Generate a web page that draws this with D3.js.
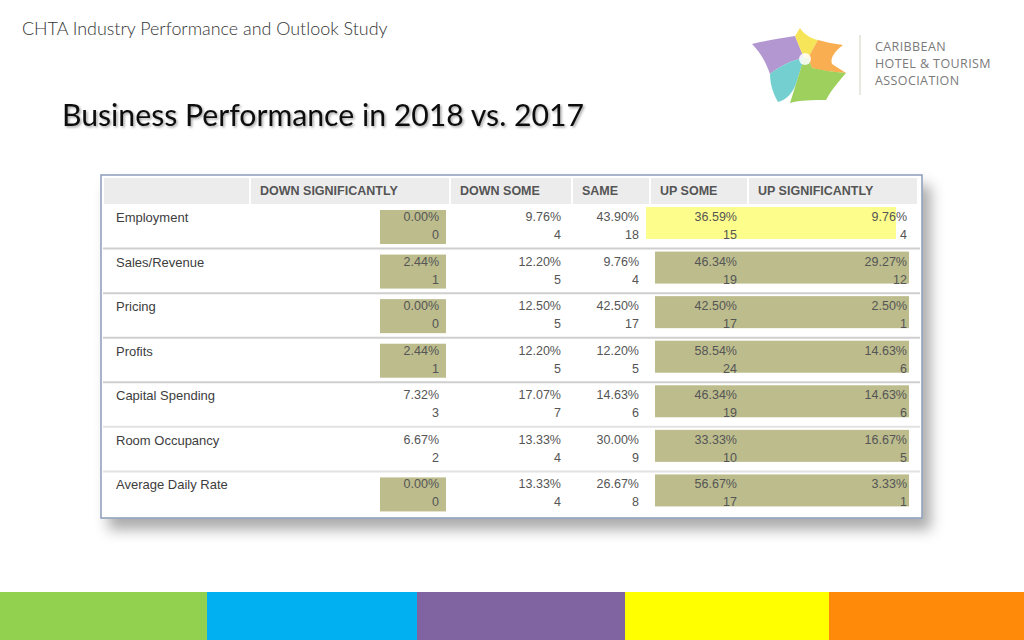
<!DOCTYPE html>
<html>
<head>
<meta charset="utf-8">
<script src="https://cdn.jsdelivr.net/npm/d3@7"></script>
<style>
  html, body { margin: 0; padding: 0; background: #fff; }
  svg { display: block; }
</style>
</head>
<body>
<svg id="chart" width="1024" height="640"></svg>
<script>
// ---------------- DATA ----------------
const slideHeader = "CHTA Industry Performance and Outlook Study";
const slideTitle = "Business Performance in 2018 vs. 2017";
const columns = ["DOWN SIGNIFICANTLY", "DOWN SOME", "SAME", "UP SOME", "UP SIGNIFICANTLY"];
const rowLabels = ["Employment", "Sales/Revenue", "Pricing", "Profits", "Capital Spending", "Room Occupancy", "Average Daily Rate"];
const percents = [
  ["0.00%", "9.76%", "43.90%", "36.59%", "9.76%"],
  ["2.44%", "12.20%", "9.76%", "46.34%", "29.27%"],
  ["0.00%", "12.50%", "42.50%", "42.50%", "2.50%"],
  ["2.44%", "12.20%", "12.20%", "58.54%", "14.63%"],
  ["7.32%", "17.07%", "14.63%", "46.34%", "14.63%"],
  ["6.67%", "13.33%", "30.00%", "33.33%", "16.67%"],
  ["0.00%", "13.33%", "26.67%", "56.67%", "3.33%"]
];
const counts = [
  [0, 4, 18, 15, 4],
  [1, 5, 4, 19, 12],
  [0, 5, 17, 17, 1],
  [1, 5, 5, 24, 6],
  [3, 7, 6, 19, 6],
  [2, 4, 9, 10, 5],
  [0, 4, 8, 17, 1]
];
// highlighted cells: [row, firstColumn, lastColumn, kind]
const highlights = [
  ["Employment", "DOWN SIGNIFICANTLY", "DOWN SIGNIFICANTLY", "olive"],
  ["Employment", "UP SOME", "UP SIGNIFICANTLY", "yellow"],
  ["Sales/Revenue", "DOWN SIGNIFICANTLY", "DOWN SIGNIFICANTLY", "olive"],
  ["Sales/Revenue", "UP SOME", "UP SIGNIFICANTLY", "olive"],
  ["Pricing", "DOWN SIGNIFICANTLY", "DOWN SIGNIFICANTLY", "olive"],
  ["Pricing", "UP SOME", "UP SIGNIFICANTLY", "olive"],
  ["Profits", "DOWN SIGNIFICANTLY", "DOWN SIGNIFICANTLY", "olive"],
  ["Profits", "UP SOME", "UP SIGNIFICANTLY", "olive"],
  ["Capital Spending", "UP SOME", "UP SIGNIFICANTLY", "olive"],
  ["Room Occupancy", "UP SOME", "UP SIGNIFICANTLY", "olive"],
  ["Average Daily Rate", "DOWN SIGNIFICANTLY", "DOWN SIGNIFICANTLY", "olive"],
  ["Average Daily Rate", "UP SOME", "UP SIGNIFICANTLY", "olive"]
];
const logoLines = ["CARIBBEAN", "HOTEL & TOURISM", "ASSOCIATION"];
const footerColors = ["#92D050", "#00B0F0", "#8064A2", "#FFFF00", "#FF8A0A"];

// ---------------- DRAW ----------------
const svg = d3.select("#chart");
const defs = svg.append("defs");

const tblShadow = defs.append("filter").attr("id", "tblShadow")
  .attr("x", "-5%").attr("y", "-5%").attr("width", "115%").attr("height", "125%");
tblShadow.append("feDropShadow").attr("dx", 8).attr("dy", 11).attr("stdDeviation", 7)
  .attr("flood-color", "#000").attr("flood-opacity", 0.33);

const titleShadow = defs.append("filter").attr("id", "titleShadow")
  .attr("x", "-5%").attr("y", "-20%").attr("width", "110%").attr("height", "150%");
titleShadow.append("feDropShadow").attr("dx", 1.5).attr("dy", 1.5).attr("stdDeviation", 1)
  .attr("flood-color", "#000").attr("flood-opacity", 0.35);

// header texts
svg.append("text").attr("x", 22).attr("y", 35)
  .attr("font-family", "Lato, 'Open Sans', sans-serif").attr("font-size", 17.9).attr("font-weight", 300)
  .attr("fill", "#333").text(slideHeader);

svg.append("text").attr("x", 62).attr("y", 126)
  .attr("font-family", "Lato, 'Open Sans', sans-serif").attr("font-size", 30.2)
  .attr("fill", "#111").attr("filter", "url(#titleShadow)").text(slideTitle);

// ---- logo ----
const logo = svg.append("g");
const starParts = [
  {c: "#A585C8", d: "M752,44 C768,40 782,38 795,36 L804,58 C792,60 780,66 770,74 C766,62 760,52 752,44 Z"},
  {c: "#5CC8C8", d: "M770,74 C780,66 792,60 804,58 L796,84 C792,94 786,100 778,102 C772,92 770,82 770,74 Z"},
  {c: "#F6E03C", d: "M795,36 C797,33 798,31 800,28 C804,34 810,38 818,40 L808,58 L804,58 Z"},
  {c: "#F7A033", d: "M808,58 L818,40 C826,42 834,44 843,45 C834,52 830,58 832,64 C838,68 842,70 846,73 C832,72 820,70 812,68 Z"},
  {c: "#8CC840", d: "M804,58 L808,58 L812,68 C822,70 832,72 846,73 C838,82 830,92 826,100 C812,100 800,100 790,103 L796,84 Z"}
];
logo.selectAll("path.star").data(starParts).join("path").attr("class", "star")
  .attr("d", d => d.d).attr("fill", d => d.c).attr("opacity", 0.85);
logo.append("circle").attr("cx", 805).attr("cy", 59).attr("r", 6).attr("fill", "#fff").attr("opacity", 0.85);
logo.append("line").attr("x1", 860).attr("x2", 860).attr("y1", 35).attr("y2", 95)
  .attr("stroke", "#e2e2d8").attr("stroke-width", 1.5);
logo.selectAll("text.logo").data(logoLines).join("text").attr("class", "logo")
  .attr("x", 875).attr("y", (d, i) => 51 + i * 17)
  .attr("font-family", "'Open Sans', Lato, sans-serif").attr("font-size", 12.5)
  .attr("letter-spacing", 0.4).attr("fill", "#7a7a7a").text(d => d);

// ---- table ----
const tbl = {left: 101, right: 922, top: 175, bottom: 518, headTop: 178, headBottom: 204, bodyBottom: 516};
const colEdges = [103, 250, 450, 572, 650, 748, 918];
const colStart = d3.scaleOrdinal().domain(["", ...columns]).range(colEdges.slice(0, 6));
const colEnd = d3.scaleOrdinal().domain(["", ...columns]).range(colEdges.slice(1));
const rowY = d3.scaleBand().domain(rowLabels).range([tbl.headBottom, tbl.bodyBottom]).paddingInner(0);

const tg = svg.append("g");
tg.append("rect").attr("x", tbl.left).attr("y", tbl.top)
  .attr("width", tbl.right - tbl.left).attr("height", tbl.bottom - tbl.top)
  .attr("fill", "#fff").attr("stroke", "#8a9cba").attr("stroke-width", 1.5)
  .attr("filter", "url(#tblShadow)");

tg.selectAll("rect.hcell").data(["", ...columns]).join("rect").attr("class", "hcell")
  .attr("x", d => colStart(d) + 1).attr("y", tbl.headTop)
  .attr("width", d => colEnd(d) - colStart(d) - 2).attr("height", tbl.headBottom - tbl.headTop)
  .attr("fill", "#ececec");

tg.selectAll("text.htxt").data(columns).join("text").attr("class", "htxt")
  .attr("x", d => colStart(d) + 10).attr("y", tbl.headTop + 17)
  .attr("font-family", "'Liberation Sans', Arial, sans-serif").attr("font-weight", "bold")
  .attr("font-size", 12.5).attr("fill", "#555").text(d => d);

// highlights
const hlColor = {olive: "#bcbc8d", yellow: "#fdfd8c"};
tg.selectAll("rect.hl").data(highlights).join("rect").attr("class", "hl")
  .attr("x", d => d[1] === d[2] ? colEnd(d[1]) - 70 : colStart(d[1]) + (d[3] === "yellow" ? -4 : 5))
  .attr("y", d => rowY(d[0]) + (d[1] === d[2] ? 6 : 3))
  .attr("width", d => d[1] === d[2] ? 66 : colEnd(d[2]) - colStart(d[1]) - (d[3] === "yellow" ? 18 : 14))
  .attr("height", d => d[1] === d[2] ? 34 : 32)
  .attr("fill", d => hlColor[d[3]]);

// row separators
tg.selectAll("line.sep").data(rowLabels.slice(1)).join("line").attr("class", "sep")
  .attr("x1", tbl.left + 2).attr("x2", tbl.right - 2)
  .attr("y1", d => rowY(d)).attr("y2", d => rowY(d))
  .attr("stroke", (d, i) => i >= 4 ? "#e2e2e2" : "#cfcfcf").attr("stroke-width", 2);

// row labels
tg.selectAll("text.rlab").data(rowLabels).join("text").attr("class", "rlab")
  .attr("x", colStart("") + 13).attr("y", d => rowY(d) + 18)
  .attr("font-family", "'Liberation Sans', Arial, sans-serif")
  .attr("font-size", 13).attr("fill", "#3d3d3d").text(d => d);

// values
const cells = [];
rowLabels.forEach((r, i) => columns.forEach((c, j) => cells.push({r, c, p: percents[i][j], n: counts[i][j]})));
const cellG = tg.selectAll("g.cell").data(cells).join("g").attr("class", "cell");
cellG.append("text")
  .attr("x", d => colEnd(d.c) - 11).attr("y", d => rowY(d.r) + 17)
  .attr("text-anchor", "end").attr("font-family", "'Liberation Sans', Arial, sans-serif")
  .attr("font-size", 12.5).attr("fill", "#555").text(d => d.p);
cellG.append("text")
  .attr("x", d => colEnd(d.c) - 11).attr("y", d => rowY(d.r) + 35)
  .attr("text-anchor", "end").attr("font-family", "'Liberation Sans', Arial, sans-serif")
  .attr("font-size", 12.5).attr("fill", "#555").text(d => d.n);

// ---- footer color bar ----
const footEdges = [0, 207, 417, 625, 829, 1024];
const fStart = d3.scaleOrdinal().domain(footerColors).range(footEdges.slice(0, 5));
const fEnd = d3.scaleOrdinal().domain(footerColors).range(footEdges.slice(1));
svg.selectAll("rect.foot").data(footerColors).join("rect").attr("class", "foot")
  .attr("x", d => fStart(d)).attr("y", 592)
  .attr("width", d => fEnd(d) - fStart(d) + 0.5).attr("height", 48).attr("fill", d => d);
</script>
</body>
</html>
